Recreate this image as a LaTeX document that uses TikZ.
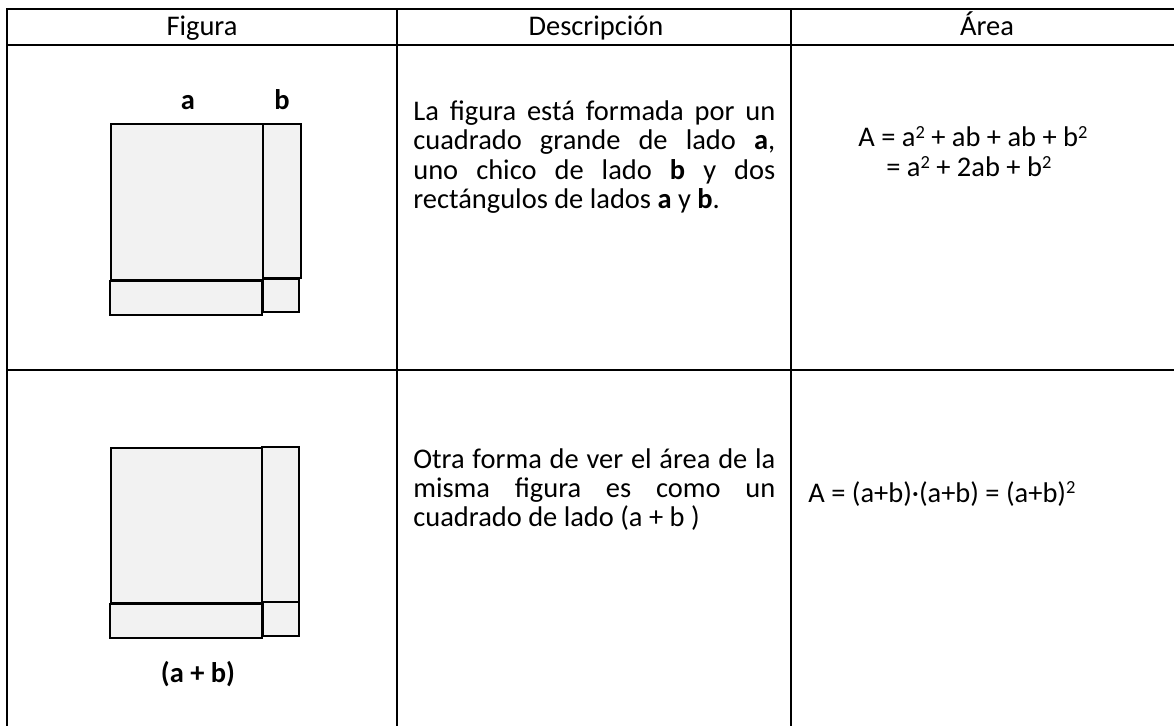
\documentclass[tikz,border=0pt]{standalone}
\usepackage{fontspec}
\setmainfont{Carlito}
\newcommand\cellfont{\fontsize{16.2pt}{16.6pt}\selectfont}
\newcommand\sqr{\raisebox{0.3em}{\fontsize{10.5pt}{10.5pt}\selectfont 2}}

\tikzset{
  rule/.style={line width=1.7pt},
  piece/.style={draw, line width=1.7pt, fill=black!5},
  txt/.style={inner sep=0pt, font=\cellfont},
  para/.style={txt, anchor=north west, text width=7.24cm, align=justify}
}

\begin{document}
\begin{tikzpicture}[x=0.02cm, y=-0.02cm]
\useasboundingbox (0,0) rectangle (1174,726);

% table rules
\draw[rule] (7,726) -- (7,9) -- (1174,9);
\draw[rule] (7,45) -- (1174,45);
\draw[rule] (7,370) -- (1174,370);
\draw[rule] (397,9) -- (397,726);
\draw[rule] (791,9) -- (791,726);

% headers
\node[txt, anchor=base] (hfig) at (202,36) {Figura};
\node[txt, anchor=base] (hdesc) at (596,36) {Descripción};
\node[txt, anchor=base] (harea) at (987,36) {Área};

% first figure
\draw[piece] (111,124) rectangle (263,280);
\draw[piece] (263,124) rectangle (301,278);
\draw[piece] (110,281) rectangle (262,315);
\draw[piece] (263,279) rectangle (299,312);
\node[txt, anchor=base] (la) at (188,110) {\textbf{a}};
\node[txt, anchor=base] (lb) at (282,110) {\textbf{b}};

\node[para] (desc1) at (413,100) {\strut La figura está formada por un\linebreak
cuadrado grande de lado \textbf{a},\linebreak
uno chico de lado \textbf{b} y dos\linebreak
rectángulos de lados \textbf{a} y \textbf{b}.};

\node[txt, anchor=base west] (area1) at (858,147) {A = a\sqr{} + ab + ab + b\sqr};
\node[txt, anchor=base west] (area2) at (886,177) {= a\sqr{} + 2ab + b\sqr};

% second figure
\draw[piece] (111,448) rectangle (262,603);
\draw[piece] (262,447) rectangle (299,602);
\draw[piece] (110,604) rectangle (262,638);
\draw[piece] (263,602) rectangle (299,636);
\node[txt, anchor=base] (lab) at (198,682) {\textbf{(a + b)}};

\node[para] (desc2) at (413,447.5) {\strut Otra forma de ver el área de la\linebreak
misma figura es como un\linebreak
cuadrado de lado (a + b )};

\node[txt, anchor=base west] (area3) at (808,502) {A = (a+b)·(a+b) = (a+b)\sqr};
\end{tikzpicture}
\end{document}
